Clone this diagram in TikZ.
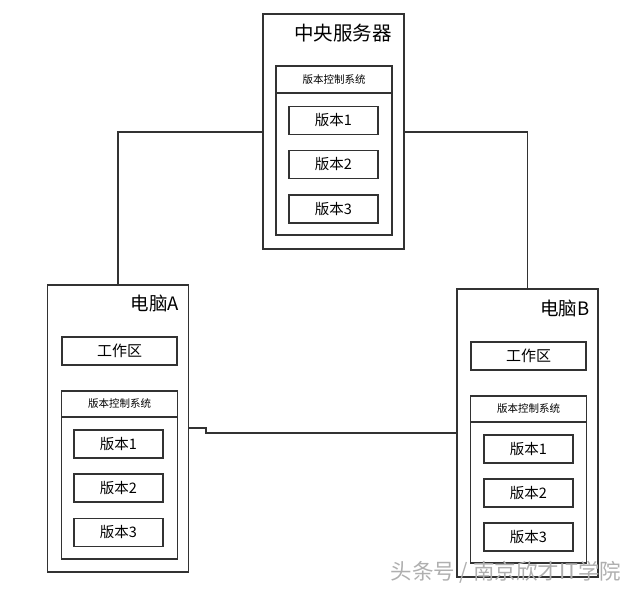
\documentclass[tikz,border=0pt]{standalone}
\usepackage{fontspec}
\usepackage{tikz}
\usetikzlibrary{positioning}
\newfontfamily\cjk{Noto Sans CJK SC}
\definecolor{lnGray}{RGB}{50,50,50}
\definecolor{wmGray}{RGB}{175,175,175}

\begin{document}
\begin{tikzpicture}[x=1pt,y=-1pt,line width=1.1pt]
  \tikzset{frame/.style={draw=lnGray,minimum width=#1,inner sep=0pt},
    outer/.style={frame=141pt},
    vcs/.style={frame=116pt},
    hdr/.style={frame=116pt,minimum height=27pt,anchor=north,font=\cjk\fontsize{10.5}{11}\selectfont},
    ver/.style={frame=89pt,minimum height=28pt,font=\cjk\fontsize{14.5}{15}\selectfont},
    work/.style={frame=115pt,minimum height=28pt,font=\cjk\fontsize{15}{15}\selectfont},
    ttl/.style={font=\cjk\fontsize{18.5}{19}\selectfont,inner sep=0pt},
    link/.style={draw=lnGray,line width=1.1pt}}
  \useasboundingbox (0,0) rectangle (640,591);
  % central server
  \node[outer,minimum height=235pt] (srv) at (333.5,131.5) {};
  \node[ttl,font=\cjk\fontsize{19.5}{20}\selectfont] (srvT) at (343,33) {中央服务器};
  \node[vcs,minimum height=169pt] (srvV) at (334,150.5) {};
  \node[hdr] (srvH) at (srvV.north) {版本控制系统};
  \node[ver] (srv1) at (333.5,120.5) {版本1};
  \node[ver] (srv2) at (333.5,164.5) {版本2};
  \node[ver] (srv3) at (333.5,209) {版本3};
  % computer A
  \node[outer,minimum height=287pt] (pcA) at (118,428.5) {};
  \node[ttl] (pcAT) at (155,304) {电脑A};
  \node[work] (pcAW) at (119.5,351) {工作区};
  \node[vcs,minimum height=168pt] (pcAV) at (119.5,475) {};
  \node[hdr,minimum height=26pt] (pcAH) at (pcAV.north) {版本控制系统};
  \node[ver] (pcA1) at (118.5,444) {版本1};
  \node[ver] (pcA2) at (118.5,488) {版本2};
  \node[ver] (pcA3) at (118.5,532.5) {版本3};
  % computer B
  \node[outer,minimum height=288pt] (pcB) at (527.5,433) {};
  \node[ttl] (pcBT) at (565,309) {电脑B};
  \node[work] (pcBW) at (528.5,356) {工作区};
  \node[vcs,minimum height=167pt] (pcBV) at (528.5,479.5) {};
  \node[hdr,minimum height=26pt] (pcBH) at (pcBV.north) {版本控制系统};
  \node[ver] (pcB1) at (528.5,449) {版本1};
  \node[ver] (pcB2) at (528.5,493) {版本2};
  \node[ver] (pcB3) at (528.5,537) {版本3};
  % links
  \coordinate (jogA) at (206,428);
  \draw[link] (pcA.north) -- (pcA.north |- 0,132) -- (srv.west |- 0,132);
  \draw[link] (srv.east |- 0,132) -| (pcB.north);
  \draw[link] (pcA.east |- jogA) -- (jogA) -- ++(0,5) -- (pcB.west |- 0,433);
  % watermark
  \node[font=\cjk\fontsize{21.5}{22}\selectfont,text=wmGray,inner sep=0pt] (wm) at (506,572) {头条号 / 南京欣才IT学院};
\end{tikzpicture}
\end{document}
